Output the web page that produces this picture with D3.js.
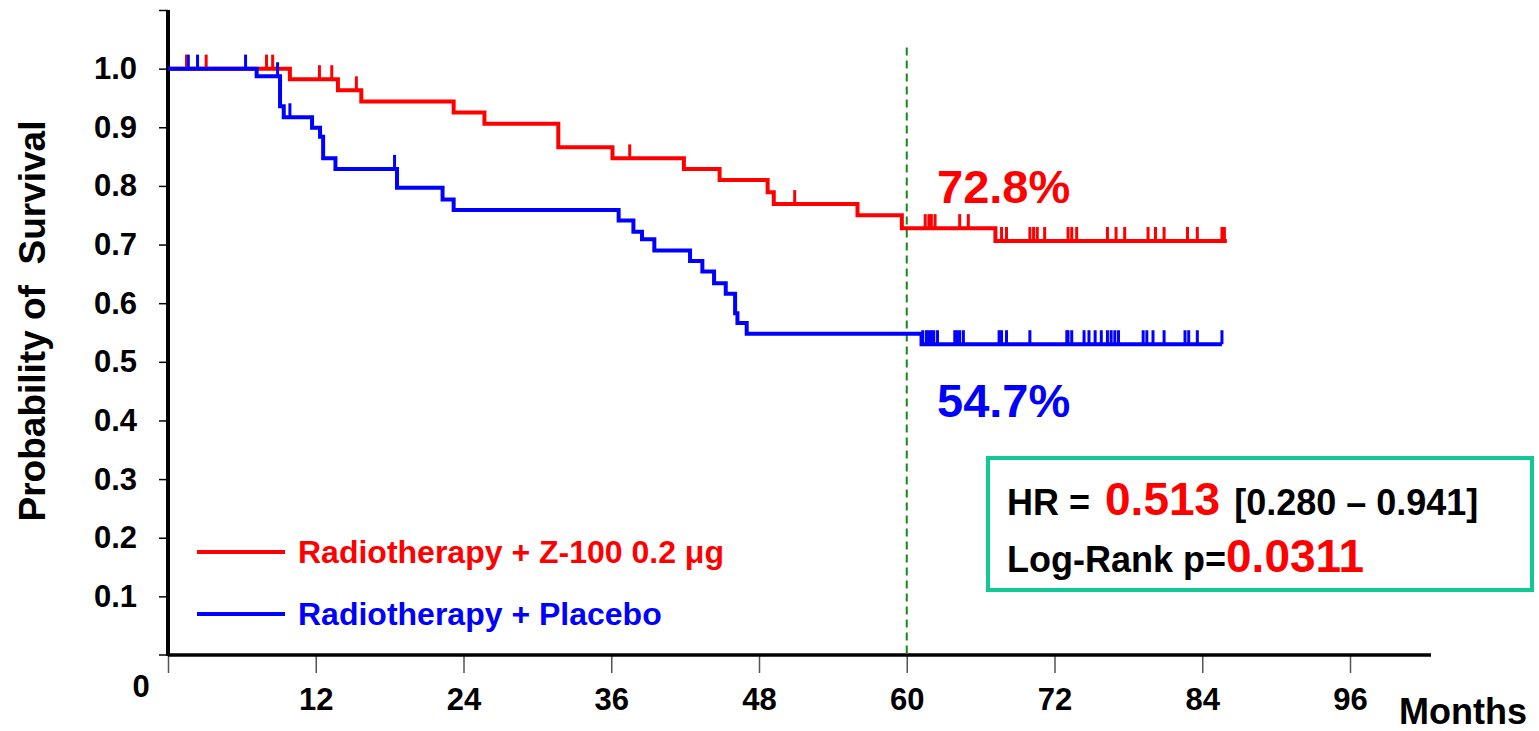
<!DOCTYPE html>
<html>
<head>
<meta charset="utf-8">
<script src="https://cdn.jsdelivr.net/npm/d3@7"></script>
<style>
  body { margin: 0; background: #fff; }
  svg { display: block; font-family: "Liberation Sans", Arial, sans-serif; font-weight: bold; }
  .axis text { font-size: 31px; font-weight: bold; fill: #000; font-family: "Liberation Sans", Arial, sans-serif; }
</style>
</head>
<body>
<div id="svg"></div>
<script>
// Kaplan-Meier steps (months, survival after the drop)
var redTimes = [0, 9.9, 13.8, 15.7, 23.2, 25.7, 31.7, 36.1, 41.9, 44.8, 48.7, 49.2, 56.0, 59.6, 67.2, 86.0];
var redSurv  = [1.0, 0.982, 0.963, 0.944, 0.925, 0.906, 0.866, 0.847, 0.829, 0.810, 0.789, 0.769, 0.750, 0.728, 0.706, 0.706];
var redCensor = [1.5, 3.1, 8.0, 8.5, 12.3, 13.3, 15.3, 37.5, 50.9, 61.5, 61.8, 62.0, 62.3, 64.3, 65.0,
                 67.7, 68.1, 70.0, 70.3, 70.6, 71.2, 73.1, 73.4, 73.8, 76.3, 77.0, 77.7, 79.6, 80.2, 80.9,
                 82.8, 83.6, 85.6, 85.8];

var blueTimes = [0, 7.2, 9.1, 9.4, 11.7, 12.35, 12.6, 13.6, 18.6, 22.3, 23.2, 36.6, 37.8, 38.5, 39.5,
                 42.4, 43.4, 44.35, 45.3, 46.06, 46.25, 47.0, 61.2, 85.6];
var blueSurv  = [1.0, 0.987, 0.936, 0.917, 0.899, 0.884, 0.847, 0.829, 0.797, 0.777, 0.759, 0.741, 0.722, 0.709, 0.690,
                 0.672, 0.654, 0.634, 0.616, 0.583, 0.566, 0.548, 0.530, 0.530];
var blueCensor = [1.65, 2.4, 6.3, 8.9, 9.9, 18.4, 61.3, 61.6, 61.8, 62.0, 62.2, 62.5, 63.9, 64.1, 64.3, 64.6,
                  67.5, 67.7, 68.1, 70.0, 73.0, 73.1, 73.4, 74.4, 74.8, 75.3, 75.8, 76.3, 76.6, 76.9, 77.2,
                  79.2, 79.5, 80.0, 80.9, 82.6, 82.9, 83.6, 85.6];

var xTicks = [0, 12, 24, 36, 48, 60, 72, 84, 96];
var yTicks = [0.1, 0.2, 0.3, 0.4, 0.5, 0.6, 0.7, 0.8, 0.9, 1.0, 1.1];
var seriesNames = ["Radiotherapy + Z-100 0.2 \u03bcg", "Radiotherapy + Placebo"];
var landmark = 60;
var landmarkLabels = ["72.8%", "54.7%"];
var hrValue = "0.513", hrCI = "[0.280 \u2013 0.941]", pValue = "0.0311";

var W = 1539, H = 731,
    x0 = 168, x96 = 1350, xEnd = 1431,
    yBottom = 655, yTop = 10;

var x = d3.scaleLinear().domain([0, 96]).range([x0, x96]);
var y = d3.scaleLinear().domain([0, 1.1]).range([yBottom, yTop]);

var svg = d3.select('#svg').append('svg')
  .attr('width', W).attr('height', H);

// Axes
var yAxis = d3.axisLeft(y).tickValues(yTicks).tickSize(9).tickSizeOuter(0).tickPadding(22)
  .tickFormat(function(d){ return d > 1.05 ? "" : d3.format(".1f")(d); });
var gy = svg.append('g').attr('class', 'axis').attr('transform', 'translate(' + x0 + ',0)').call(yAxis);
gy.select('.domain').remove();
gy.selectAll('.tick line').attr('stroke', '#000').attr('stroke-width', 1.5);

var xAxis = d3.axisBottom(x).tickValues(xTicks).tickSize(18).tickSizeOuter(0).tickPadding(15)
  .tickFormat(function(d){ return d === 0 ? "" : d; });
var gx = svg.append('g').attr('class', 'axis').attr('transform', 'translate(0,' + yBottom + ')').call(xAxis);
gx.select('.domain').remove();
gx.selectAll('.tick line').attr('stroke', '#555').attr('stroke-width', 1.5);

// zero tick on y
svg.append('line').attr('x1', x0 - 9).attr('x2', x0).attr('y1', y(0)).attr('y2', y(0))
  .attr('stroke', '#000').attr('stroke-width', 1.5);

// axis lines
svg.append('line').attr('x1', x0).attr('x2', xEnd).attr('y1', yBottom).attr('y2', yBottom)
  .attr('stroke', '#000').attr('stroke-width', 3.5);
svg.append('line').attr('x1', x0).attr('x2', x0).attr('y1', yTop).attr('y2', yBottom + 1)
  .attr('stroke', '#000').attr('stroke-width', 4);

svg.append('text').attr('x', 141).attr('y', 697).attr('text-anchor', 'middle')
  .style('font-size', '31px').text('0');
svg.append('text').attr('x', 1527).attr('y', 724).attr('text-anchor', 'end')
  .style('font-size', '36px').text('Months');
svg.append('text').attr('transform', 'translate(32,321) rotate(-90)')
  .attr('text-anchor', 'middle').attr('dominant-baseline', 'central')
  .style('font-size', '37px').style('white-space', 'pre').attr('xml:space', 'preserve')
  .text('Probability of  Survival');

// landmark line
svg.append('line').attr('x1', x(landmark)).attr('x2', x(landmark))
  .attr('y1', y(1.036)).attr('y2', yBottom)
  .attr('stroke', '#138a13').attr('stroke-width', 2).attr('stroke-dasharray', '8,5');

// Curves
var line = d3.line().curve(d3.curveStepAfter)
  .x(function(d){ return x(d[0]); })
  .y(function(d){ return y(d[1]); });

function survAt(times, surv, t) {
  var i = d3.bisectRight(times, t) - 1;
  return surv[Math.max(0, i)];
}

function drawSeries(times, surv, censor, color) {
  var pts = d3.zip(times, surv);
  svg.append('path').attr('d', line(pts)).attr('fill', 'none')
    .attr('stroke', color).attr('stroke-width', 4).attr('stroke-linejoin', 'miter');
  svg.selectAll(null).data(censor).enter().append('line')
    .attr('x1', function(d){ return x(d); })
    .attr('x2', function(d){ return x(d); })
    .attr('y1', function(d){ return y(survAt(times, surv, d)); })
    .attr('y2', function(d){ return y(survAt(times, surv, d)) - 14; })
    .attr('stroke', color).attr('stroke-width', 3);
}
drawSeries(redTimes, redSurv, redCensor, '#ff0000');
drawSeries(blueTimes, blueSurv, blueCensor, '#0000ff');

// Landmark labels
svg.append('text').attr('x', 937).attr('y', 203).attr('fill', '#ff0000')
  .style('font-size', '47px').text(landmarkLabels[0]);
svg.append('text').attr('x', 937).attr('y', 417).attr('fill', '#0000ff')
  .style('font-size', '47px').text(landmarkLabels[1]);

// Legend
var colors = ['#ff0000', '#0000ff'];
var legend = svg.selectAll('.legend').data(seriesNames).enter().append('g')
  .attr('class', 'legend')
  .attr('transform', function(d, i){ return 'translate(197,' + (552 + i * 62) + ')'; });
legend.append('line').attr('x1', 0).attr('x2', 88).attr('y1', 0).attr('y2', 0)
  .attr('stroke', function(d, i){ return colors[i]; }).attr('stroke-width', 4);
legend.append('text').attr('x', 101).attr('y', 11)
  .attr('fill', function(d, i){ return colors[i]; })
  .style('font-size', '32px').text(function(d){ return d; });

// Stats box
svg.append('rect').attr('x', 988).attr('y', 458).attr('width', 544).attr('height', 132)
  .attr('fill', 'none').attr('stroke', '#12c896').attr('stroke-width', 4);
var t1 = svg.append('text').attr('x', 1007).attr('y', 515).style('font-size', '36px');
t1.append('tspan').text('HR =');
t1.append('tspan').attr('dx', 15).attr('fill', '#ff0000').style('font-size', '46px').text(hrValue);
t1.append('tspan').attr('dx', 14).text(hrCI);
var t2 = svg.append('text').attr('x', 1007).attr('y', 572).style('font-size', '36px');
t2.append('tspan').text('Log-Rank p=');
t2.append('tspan').attr('fill', '#ff0000').style('font-size', '46px').text(pValue);
</script>
</body>
</html>
